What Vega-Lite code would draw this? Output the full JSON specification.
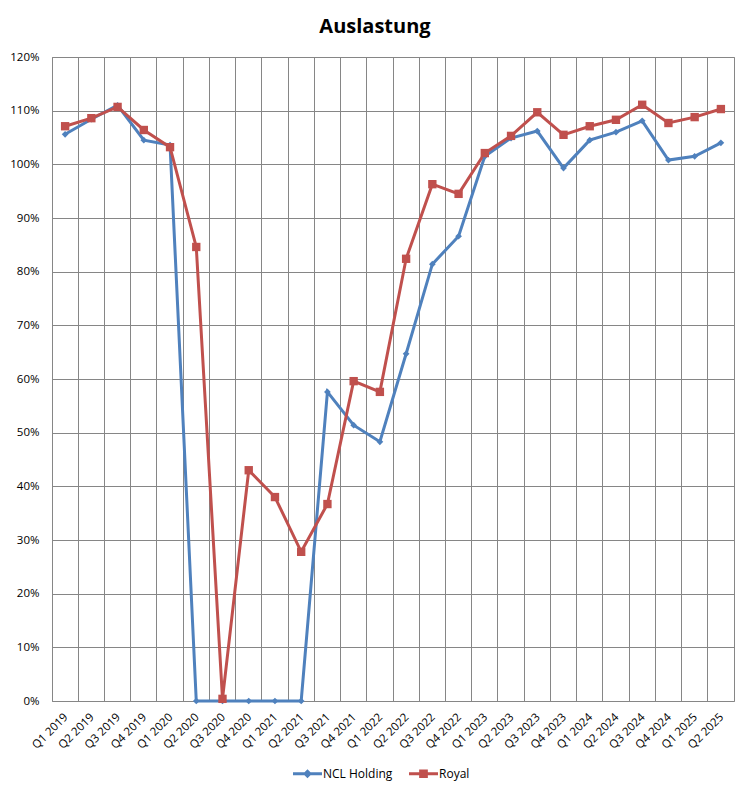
{
  "$schema": "https://vega.github.io/schema/vega-lite/v6.json",
  "width": 682,
  "height": 644,
  "autosize": "none",
  "padding": {"left": 52, "top": 57, "right": 16, "bottom": 94},
  "background": "white",
  "title": {
    "text": "Auslastung",
    "font": "Open Sans",
    "fontSize": 20,
    "fontWeight": "bold",
    "color": "#000000",
    "anchor": "middle",
    "dx": -18,
    "offset": 14
  },
  "data": {
    "values": [
      {"Quartal": "Q1 2019", "Reihe": "NCL Holding", "Wert": 1.056},
      {"Quartal": "Q2 2019", "Reihe": "NCL Holding", "Wert": 1.084},
      {"Quartal": "Q3 2019", "Reihe": "NCL Holding", "Wert": 1.110},
      {"Quartal": "Q4 2019", "Reihe": "NCL Holding", "Wert": 1.045},
      {"Quartal": "Q1 2020", "Reihe": "NCL Holding", "Wert": 1.036},
      {"Quartal": "Q2 2020", "Reihe": "NCL Holding", "Wert": 0},
      {"Quartal": "Q3 2020", "Reihe": "NCL Holding", "Wert": 0},
      {"Quartal": "Q4 2020", "Reihe": "NCL Holding", "Wert": 0},
      {"Quartal": "Q1 2021", "Reihe": "NCL Holding", "Wert": 0},
      {"Quartal": "Q2 2021", "Reihe": "NCL Holding", "Wert": 0},
      {"Quartal": "Q3 2021", "Reihe": "NCL Holding", "Wert": 0.576},
      {"Quartal": "Q4 2021", "Reihe": "NCL Holding", "Wert": 0.514},
      {"Quartal": "Q1 2022", "Reihe": "NCL Holding", "Wert": 0.483},
      {"Quartal": "Q2 2022", "Reihe": "NCL Holding", "Wert": 0.647},
      {"Quartal": "Q3 2022", "Reihe": "NCL Holding", "Wert": 0.814},
      {"Quartal": "Q4 2022", "Reihe": "NCL Holding", "Wert": 0.866},
      {"Quartal": "Q1 2023", "Reihe": "NCL Holding", "Wert": 1.015},
      {"Quartal": "Q2 2023", "Reihe": "NCL Holding", "Wert": 1.049},
      {"Quartal": "Q3 2023", "Reihe": "NCL Holding", "Wert": 1.062},
      {"Quartal": "Q4 2023", "Reihe": "NCL Holding", "Wert": 0.993},
      {"Quartal": "Q1 2024", "Reihe": "NCL Holding", "Wert": 1.045},
      {"Quartal": "Q2 2024", "Reihe": "NCL Holding", "Wert": 1.060},
      {"Quartal": "Q3 2024", "Reihe": "NCL Holding", "Wert": 1.081},
      {"Quartal": "Q4 2024", "Reihe": "NCL Holding", "Wert": 1.008},
      {"Quartal": "Q1 2025", "Reihe": "NCL Holding", "Wert": 1.015},
      {"Quartal": "Q2 2025", "Reihe": "NCL Holding", "Wert": 1.040},
      {"Quartal": "Q1 2019", "Reihe": "Royal", "Wert": 1.071},
      {"Quartal": "Q2 2019", "Reihe": "Royal", "Wert": 1.086},
      {"Quartal": "Q3 2019", "Reihe": "Royal", "Wert": 1.107},
      {"Quartal": "Q4 2019", "Reihe": "Royal", "Wert": 1.064},
      {"Quartal": "Q1 2020", "Reihe": "Royal", "Wert": 1.032},
      {"Quartal": "Q2 2020", "Reihe": "Royal", "Wert": 0.846},
      {"Quartal": "Q3 2020", "Reihe": "Royal", "Wert": 0.004},
      {"Quartal": "Q4 2020", "Reihe": "Royal", "Wert": 0.430},
      {"Quartal": "Q1 2021", "Reihe": "Royal", "Wert": 0.380},
      {"Quartal": "Q2 2021", "Reihe": "Royal", "Wert": 0.278},
      {"Quartal": "Q3 2021", "Reihe": "Royal", "Wert": 0.367},
      {"Quartal": "Q4 2021", "Reihe": "Royal", "Wert": 0.596},
      {"Quartal": "Q1 2022", "Reihe": "Royal", "Wert": 0.576},
      {"Quartal": "Q2 2022", "Reihe": "Royal", "Wert": 0.824},
      {"Quartal": "Q3 2022", "Reihe": "Royal", "Wert": 0.963},
      {"Quartal": "Q4 2022", "Reihe": "Royal", "Wert": 0.945},
      {"Quartal": "Q1 2023", "Reihe": "Royal", "Wert": 1.021},
      {"Quartal": "Q2 2023", "Reihe": "Royal", "Wert": 1.053},
      {"Quartal": "Q3 2023", "Reihe": "Royal", "Wert": 1.097},
      {"Quartal": "Q4 2023", "Reihe": "Royal", "Wert": 1.055},
      {"Quartal": "Q1 2024", "Reihe": "Royal", "Wert": 1.071},
      {"Quartal": "Q2 2024", "Reihe": "Royal", "Wert": 1.083},
      {"Quartal": "Q3 2024", "Reihe": "Royal", "Wert": 1.111},
      {"Quartal": "Q4 2024", "Reihe": "Royal", "Wert": 1.077},
      {"Quartal": "Q1 2025", "Reihe": "Royal", "Wert": 1.088},
      {"Quartal": "Q2 2025", "Reihe": "Royal", "Wert": 1.103}
    ]
  },
  "encoding": {
    "x": {
      "field": "Quartal",
      "type": "ordinal",
      "sort": null,
      "bandPosition": 0.5,
      "scale": {"type": "band", "paddingInner": 0, "paddingOuter": 0},
      "axis": {
        "title": null,
        "bandPosition": 0,
        "grid": true,
        "ticks": false,
        "domain": false,
        "labelAngle": -45,
        "labelOffset": -3,
        "labelPadding": 10
      }
    },
    "y": {
      "field": "Wert",
      "type": "quantitative",
      "scale": {"domain": [0, 1.2], "nice": false},
      "axis": {
        "title": null,
        "values": [0, 0.1, 0.2, 0.3, 0.4, 0.5, 0.6, 0.7, 0.8, 0.9, 1.0, 1.1, 1.2],
        "format": ".0%",
        "grid": true,
        "ticks": false,
        "domain": false,
        "labelPadding": 13
      }
    }
  },
  "layer": [
    {
      "mark": {"type": "line", "strokeWidth": 3},
      "encoding": {
        "color": {
          "field": "Reihe",
          "type": "nominal",
          "scale": {"domain": ["NCL Holding", "Royal"], "range": ["#4F81BD", "#C0504D"]},
          "legend": {
            "title": null,
            "orient": "none",
            "direction": "horizontal",
            "legendX": 241,
            "legendY": 702,
            "symbolSize": 841,
            "labelOffset": 1,
            "columnPadding": 16,
            "encode": {
              "symbols": {
                "update": {
                  "shape": {"signal": "datum.value === 'NCL Holding' ? 'M-1,-0.1H1V0.1H-1Z M0,-0.31L0.31,0L0,0.31L-0.31,0Z' : 'M-1,-0.1H1V0.1H-1Z M-0.3,-0.3H0.3V0.3H-0.3Z'"},
                  "fill": {"signal": "datum.value === 'NCL Holding' ? '#4F81BD' : '#C0504D'"},
                  "stroke": {"value": "transparent"},
                  "strokeWidth": {"value": 0},
                  "opacity": {"value": 1}
                }
              }
            }
          }
        }
      }
    },
    {
      "transform": [{"filter": "datum.Reihe === 'NCL Holding'"}],
      "mark": {"type": "point", "shape": "diamond", "filled": true, "opacity": 1, "size": 45, "color": "#4F81BD"}
    },
    {
      "transform": [{"filter": "datum.Reihe === 'Royal'"}],
      "mark": {"type": "point", "shape": "square", "filled": true, "opacity": 1, "size": 70, "color": "#C0504D"}
    }
  ],
  "config": {
    "font": "Open Sans",
    "view": {"stroke": "#868686", "strokeWidth": 1},
    "axis": {
      "gridColor": "#868686",
      "gridWidth": 1,
      "gridOpacity": 1,
      "labelFont": "Open Sans",
      "labelFontSize": 11.5,
      "labelColor": "#000000"
    },
    "legend": {"labelFont": "Open Sans", "labelFontSize": 12, "labelColor": "#000000"}
  }
}
